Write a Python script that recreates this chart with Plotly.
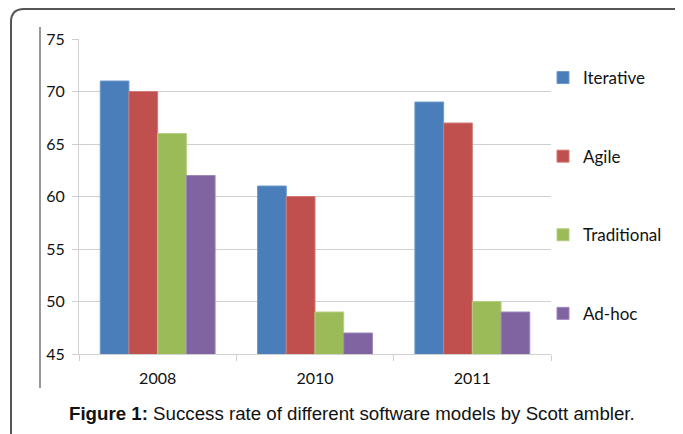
import plotly.graph_objects as go

years = ["2008", "2010", "2011"]
series_names = ["Iterative", "Agile", "Traditional", "Ad-hoc"]
iterative = [71, 61, 69]
agile = [70, 60, 67]
traditional = [66, 49, 50]
adhoc = [62, 47, 49]
y_ticks = [45, 50, 55, 60, 65, 70, 75]
caption_bold = "Figure 1:"
caption_text = " Success rate of different software models by Scott ambler."

colors = ["#4A7EBB", "#C0504D", "#9BBB59", "#8064A2"]
line_colors = ["#6E98CC", "#D27A77", "#B5CF80", "#9C86BA"]
values = [iterative, agile, traditional, adhoc]

# page body has an 8px margin; work in window pixels and shift
OFF = 8
WIN_W, WIN_H = 683, 434
W, H = WIN_W - OFF, WIN_H - OFF
L, R, T, B = 79 - OFF, 551 - OFF, 39 - OFF, 354 - OFF

fig = go.Figure()
for i, (name, vals) in enumerate(zip(series_names, values)):
    fig.add_trace(go.Bar(
        x=years, y=vals, name=name, legendgroup=name,
        marker=dict(color=colors[i], line=dict(color=line_colors[i], width=1)),
    ))

def px_x(px):
    return (px - OFF - L) / (R - L)

def px_y(py):
    return (B - (py - OFF)) / (B - T)

shapes = [
    dict(type="path", xref="paper", yref="paper",
         path=f"M {px_x(11)} {px_y(450)} L {px_x(11)} {px_y(22)} Q {px_x(11)} {px_y(9)} {px_x(24)} {px_y(9)} L {px_x(700)} {px_y(9)}",
         line=dict(color="#555555", width=2)),
    dict(type="line", xref="paper", yref="paper",
         x0=px_x(40), x1=px_x(40), y0=px_y(27), y1=px_y(388),
         line=dict(color="#333333", width=1)),
]

annotations = [
    dict(xref="paper", yref="paper", x=px_x(352), y=px_y(413),
         text=f"<b>{caption_bold}</b>{caption_text}", showarrow=False,
         font=dict(family="Liberation Sans, Arial", size=18.7, color="#111111"),
         xanchor="center", yanchor="middle"),
]

fig.update_layout(
    width=W, height=H,
    margin=dict(l=L, r=W - R, t=T, b=H - B),
    paper_bgcolor="white", plot_bgcolor="white",
    barmode="group", bargap=0.27, bargroupgap=0,
    font=dict(family="Lato, Open Sans, sans-serif", size=16, color="#111111"),
    xaxis=dict(type="category", showgrid=False, showline=True, linecolor="#D0D0D0",
               linewidth=1, ticks="outside", tickson="boundaries", ticklen=6,
               tickcolor="#D0D0D0", tickfont=dict(size=16), ticklabelstandoff=10),
    yaxis=dict(range=[45, 75], tickvals=y_ticks, showgrid=True, gridcolor="#D0D0D0",
               showline=True, linecolor="#D0D0D0", ticks="outside", ticklen=6,
               tickcolor="#D0D0D0", tickfont=dict(size=16), zeroline=False,
               ticklabelstandoff=4),
    legend=dict(x=px_x(543), y=px_y(60), xanchor="left", yanchor="top",
                traceorder="grouped", tracegroupgap=53.5, itemwidth=30,
                font=dict(size=17), bgcolor="rgba(0,0,0,0)"),
    shapes=shapes, annotations=annotations,
)

fig.write_html("out.html")
